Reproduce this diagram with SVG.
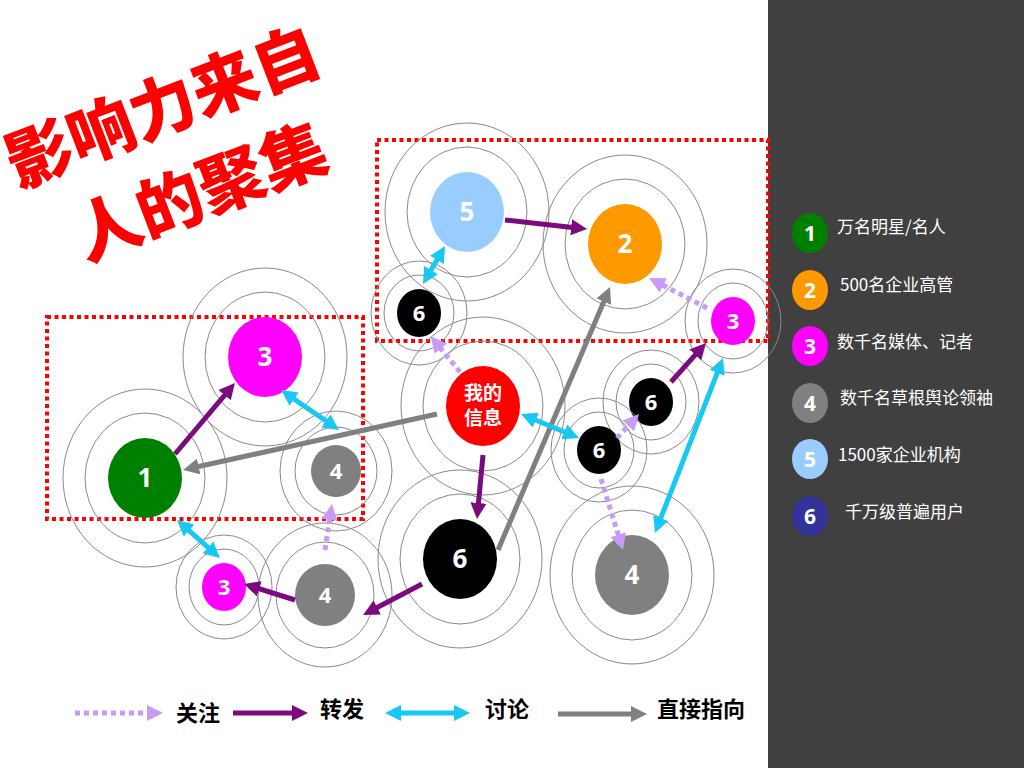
<svg xmlns="http://www.w3.org/2000/svg" width="1024" height="768" viewBox="0 0 1024 768">
<defs>
<style>
.ring{fill:none;stroke:#8a8a8a;stroke-width:1}
.num{font-family:"Open Sans","Liberation Sans","Noto Sans CJK SC",sans-serif;font-weight:bold;fill:#fff;text-anchor:middle}
.n26{font-size:26px}
.n22{font-size:22px}
.fwd{stroke:#7a0a7e;stroke-width:5;fill:none;marker-end:url(#mP)}
.dir{stroke:#808080;stroke-width:5;fill:none;marker-end:url(#mG)}
.dis{stroke:#18c8f2;stroke-width:5;fill:none;marker-end:url(#mC);marker-start:url(#mC)}
.fol{stroke:#c89cf6;stroke-width:5;fill:none;stroke-dasharray:5 4;marker-end:url(#mL)}
.box{fill:none;stroke:#ff0000;stroke-width:4;stroke-dasharray:4 3.5}
.lg{font-family:"Noto Sans CJK SC",sans-serif;font-size:22px;font-weight:bold;fill:#000}
.pl{font-family:"Noto Sans CJK SC",sans-serif;font-size:17px;fill:#fff}
.title{font-family:"Noto Sans CJK SC",sans-serif;font-size:66px;font-weight:900;fill:#ff0000;text-anchor:middle}
</style>
<marker id="mP" markerUnits="userSpaceOnUse" markerWidth="16" markerHeight="16" refX="6" refY="8" orient="auto-start-reverse"><path d="M0,0 L16,8 L0,16 z" fill="#7a0a7e"/></marker>
<marker id="mG" markerUnits="userSpaceOnUse" markerWidth="16" markerHeight="16" refX="6" refY="8" orient="auto-start-reverse"><path d="M0,0 L16,8 L0,16 z" fill="#808080"/></marker>
<marker id="mC" markerUnits="userSpaceOnUse" markerWidth="16" markerHeight="16" refX="6" refY="8" orient="auto-start-reverse"><path d="M0,0 L16,8 L0,16 z" fill="#18c8f2"/></marker>
<marker id="mL" markerUnits="userSpaceOnUse" markerWidth="16" markerHeight="16" refX="6" refY="8" orient="auto-start-reverse"><path d="M0,0 L16,8 L0,16 z" fill="#c89cf6"/></marker>
</defs>
<rect x="0" y="0" width="1024" height="768" fill="#ffffff"/>
<rect id="panel" x="768" y="0" width="256" height="768" fill="#404040"/>

<g id="title" transform="translate(163,108) rotate(-21)">
<text class="title" x="0" y="23">影响力来自</text>
<text class="title" x="5" y="116">人的聚集</text>
</g>

<g id="boxes">
<rect class="box" x="377" y="140" width="391" height="201"/>
<rect class="box" x="47" y="317" width="316" height="202"/>
</g>

<g id="node-5">
<ellipse class="ring" cx="467" cy="212" rx="60" ry="65"/>
<ellipse class="ring" cx="467" cy="212" rx="82" ry="89"/>
<ellipse cx="467" cy="212" rx="37" ry="40" fill="#99ccff"/>
<text class="num n26" x="467" y="221">5</text>
</g>
<g id="node-2">
<ellipse class="ring" cx="625" cy="244" rx="60" ry="65"/>
<ellipse class="ring" cx="625" cy="244" rx="82" ry="89"/>
<ellipse cx="625" cy="244" rx="37" ry="40" fill="#ff9900"/>
<text class="num n26" x="625" y="253">2</text>
</g>
<g id="node-6a">
<ellipse class="ring" cx="419" cy="313" rx="35" ry="38"/>
<ellipse class="ring" cx="419" cy="313" rx="48" ry="52"/>
<ellipse cx="419" cy="313" rx="22" ry="24" fill="#000"/>
<text class="num n22" x="419" y="321">6</text>
</g>
<g id="node-3c">
<ellipse class="ring" cx="733" cy="321" rx="35" ry="38"/>
<ellipse class="ring" cx="733" cy="321" rx="48" ry="52"/>
<ellipse cx="733" cy="321" rx="22" ry="24" fill="#ff00ff"/>
<text class="num n22" x="733" y="329">3</text>
</g>
<g id="node-3a">
<ellipse class="ring" cx="265" cy="357" rx="60" ry="65"/>
<ellipse class="ring" cx="265" cy="357" rx="82" ry="89"/>
<ellipse cx="265" cy="357" rx="37" ry="40" fill="#ff00ff"/>
<text class="num n26" x="265" y="366">3</text>
</g>
<g id="node-info">
<ellipse class="ring" cx="483" cy="406" rx="60" ry="65"/>
<ellipse class="ring" cx="483" cy="406" rx="82" ry="89"/>
<ellipse cx="483" cy="406" rx="37" ry="40" fill="#ff0000"/>
<text class="num" style="font-family:'Noto Sans CJK SC',sans-serif;font-size:19px" x="483" y="400">我的</text>
<text class="num" style="font-family:'Noto Sans CJK SC',sans-serif;font-size:19px" x="483" y="425">信息</text>
</g>
<g id="node-6c">
<ellipse class="ring" cx="651" cy="402" rx="35" ry="38"/>
<ellipse class="ring" cx="651" cy="402" rx="48" ry="52"/>
<ellipse cx="651" cy="402" rx="22" ry="24" fill="#000"/>
<text class="num n22" x="651" y="410">6</text>
</g>
<g id="node-6b">
<ellipse class="ring" cx="599" cy="450" rx="35" ry="38"/>
<ellipse class="ring" cx="599" cy="450" rx="48" ry="52"/>
<ellipse cx="599" cy="450" rx="22" ry="24" fill="#000"/>
<text class="num n22" x="599" y="458">6</text>
</g>
<g id="node-1">
<ellipse class="ring" cx="145" cy="478" rx="60" ry="65"/>
<ellipse class="ring" cx="145" cy="478" rx="82" ry="89"/>
<ellipse cx="145" cy="478" rx="37" ry="40" fill="#008000"/>
<text class="num n26" x="145" y="487">1</text>
</g>
<g id="node-4a">
<ellipse class="ring" cx="336" cy="471" rx="41" ry="44"/>
<ellipse class="ring" cx="336" cy="471" rx="56" ry="60"/>
<ellipse cx="336" cy="471" rx="25" ry="26" fill="#808080"/>
<text class="num n22" x="336" y="479">4</text>
</g>
<g id="node-6d">
<ellipse class="ring" cx="460" cy="559" rx="60" ry="65"/>
<ellipse class="ring" cx="460" cy="559" rx="82" ry="89"/>
<ellipse cx="460" cy="559" rx="37" ry="40" fill="#000"/>
<text class="num n26" x="460" y="568">6</text>
</g>
<g id="node-4c">
<ellipse class="ring" cx="632" cy="575" rx="60" ry="65"/>
<ellipse class="ring" cx="632" cy="575" rx="82" ry="89"/>
<ellipse cx="632" cy="575" rx="37" ry="40" fill="#808080"/>
<text class="num n26" x="632" y="584">4</text>
</g>
<g id="node-3b">
<ellipse class="ring" cx="224" cy="587" rx="35" ry="38"/>
<ellipse class="ring" cx="224" cy="587" rx="48" ry="52"/>
<ellipse cx="224" cy="587" rx="22" ry="24" fill="#ff00ff"/>
<text class="num n22" x="224" y="595">3</text>
</g>
<g id="node-4b">
<ellipse class="ring" cx="325" cy="595" rx="49" ry="53"/>
<ellipse class="ring" cx="325" cy="595" rx="67" ry="72"/>
<ellipse cx="325" cy="595" rx="30" ry="31" fill="#808080"/>
<text class="num n22" x="325" y="603">4</text>
</g>

<g id="connectors">
<line class="fwd" x1="175" y1="454" x2="228.5" y2="390.6"/>
<line class="dis" x1="289.2" y1="395.7" x2="330.8" y2="424.3"/>
<line class="dir" x1="437" y1="414" x2="192.8" y2="467.8"/>
<line class="dis" x1="184.5" y1="526.6" x2="212.5" y2="551.4"/>
<line class="fwd" x1="295" y1="600" x2="253.5" y2="587"/>
<line class="fol" x1="325" y1="550" x2="330.5" y2="513.9"/>
<line class="fwd" x1="422" y1="584" x2="371.9" y2="610.3"/>
<line class="fwd" x1="483" y1="455" x2="477.9" y2="509"/>
<line class="dir" x1="498" y1="550" x2="606.1" y2="296.2"/>
<line class="dis" x1="530.2" y1="417.8" x2="569.8" y2="434.2"/>
<line class="fol" x1="617" y1="438" x2="632.3" y2="421.4"/>
<line class="fol" x1="601" y1="479" x2="620" y2="540.4"/>
<line class="fwd" x1="671" y1="382" x2="699.3" y2="350.4"/>
<line class="dis" x1="719.4" y1="367.3" x2="658.6" y2="523.7"/>
<line class="fol" x1="460" y1="372" x2="437" y2="344"/>
<line class="fol" x1="707" y1="308" x2="657.9" y2="282.6"/>
<line class="fwd" x1="505" y1="220" x2="577.1" y2="227.9"/>
<line class="dis" x1="440" y1="254.7" x2="428" y2="275.3"/>
</g>

<g id="legend-bottom">
<line class="fol" x1="75" y1="713" x2="153" y2="713"/>
<text class="lg" x="176" y="721">关注</text>
<line class="fwd" x1="233" y1="713" x2="298" y2="713"/>
<text class="lg" x="320" y="717">转发</text>
<line class="dis" x1="395" y1="713" x2="460" y2="713"/>
<text class="lg" x="485" y="717">讨论</text>
<line class="dir" x1="558" y1="714" x2="637" y2="714"/>
<text class="lg" x="657" y="717">直接指向</text>
</g>

<g id="legend-panel">
<ellipse cx="810" cy="233" rx="18" ry="20" fill="#008000"/><text class="num" style="font-size:21px" x="810" y="241">1</text>
<text class="pl" x="837" y="233">万名明星/名人</text>
<ellipse cx="810" cy="290" rx="18" ry="20" fill="#ff9900"/><text class="num" style="font-size:21px" x="810" y="298">2</text>
<text class="pl" x="840" y="291">500名企业高管</text>
<ellipse cx="810" cy="346" rx="18" ry="20" fill="#ff00ff"/><text class="num" style="font-size:21px" x="810" y="354">3</text>
<text class="pl" x="837" y="348">数千名媒体、记者</text>
<ellipse cx="810" cy="403" rx="18" ry="20" fill="#808080"/><text class="num" style="font-size:21px" x="810" y="411">4</text>
<text class="pl" x="840" y="404">数千名草根舆论领袖</text>
<ellipse cx="810" cy="459" rx="18" ry="20" fill="#99ccff"/><text class="num" style="font-size:21px" x="810" y="467">5</text>
<text class="pl" x="838" y="461">1500家企业机构</text>
<ellipse cx="810" cy="516" rx="18" ry="20" fill="#333399"/><text class="num" style="font-size:21px" x="810" y="524">6</text>
<text class="pl" x="845" y="518">千万级普遍用户</text>
</g>
</svg>
